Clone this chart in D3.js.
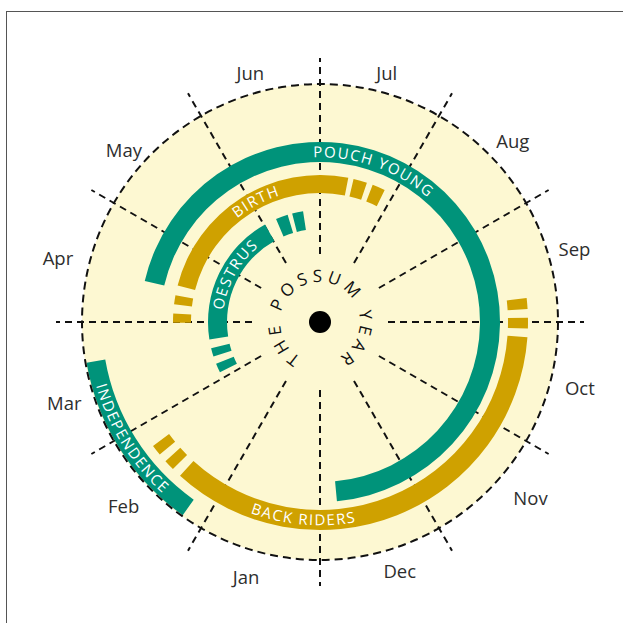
<!DOCTYPE html>
<html>
<head>
<meta charset="utf-8">
<script src="https://cdn.jsdelivr.net/npm/d3@7"></script>
<style>
  body { margin: 0; background: #fff; }
  svg { display: block; }
</style>
</head>
<body>
<div id="chart"></div>
<script>
// month names, Jan = 1 on the month axis used below
var months = ["Jan", "Feb", "Mar", "Apr", "May", "Jun", "Jul", "Aug", "Sep", "Oct", "Nov", "Dec"];

// band start / end on the month axis (1 = Jan 1, 13 = Jan 1 of the next year)
var bandNames   = ["POUCH YOUNG", "BIRTH", "OESTRUS", "BACK RIDERS", "INDEPENDENCE"];
var bandStart   = [4.44, 4.48, 3.70, 10.14, 14.18];
var bandEnd     = [12.82, 7.37, 6.02, 14.41, 15.67];
var bandLabelAt = [7.65, 6.07, 4.97, 13.16, 14.94];

// the short broken pieces before / after a band: [start, end]
var bandDashes = [
  [],
  [[3.99, 4.11], [4.23, 4.35], [7.44, 7.62], [7.70, 7.87]],
  [[3.11, 3.27], [3.40, 3.55], [6.23, 6.44], [6.52, 6.71]],
  [[9.78, 9.88], [9.96, 10.06], [14.50, 14.60], [14.68, 14.78]],
  []
];

var centreTitle = "THE POSSUM YEAR";

// ---------------------------------------------------------------

var green = "#00937a",
    gold = "#cfa100",
    cream = "#fdf8d2";

// ring per band: [inner, outer] and colour
var rings = [[160, 180], [129, 147], [93, 112], [188, 208], [218, 237]];
var ringColors = [green, gold, green, gold, green];

// month label placement: nudge (degrees) off mid-month, and radius
var labelNudge = [1.2, 1.9, -2.4, -1.1, -3.7, -0.6, 0, 1.7, -1.2, -0.8, -5.2, -2.8];
var labelRadius = [265, 269, 268, 270, 261, 259, 258, 265, 265, 268, 274, 261];

var width = 623, height = 623;
var cx = 320, cy = 322;
var circleR = 238;

// Jul 1 sits at 12 o'clock, a full year clockwise
var angle = d3.scaleLinear().domain([7, 19]).range([0, 2 * Math.PI]);

function polar(r, a) {
  return [r * Math.sin(a), -r * Math.cos(a)];
}

var svg = d3.select("#chart").append("svg")
    .attr("width", width)
    .attr("height", height);

svg.append("rect")
    .attr("x", 6.5)
    .attr("y", 11.5)
    .attr("width", 800)
    .attr("height", 800)
    .attr("fill", "none")
    .attr("stroke", "#555")
    .attr("stroke-width", 1);

var g = svg.append("g")
    .attr("transform", "translate(" + cx + "," + cy + ")");

g.append("circle")
    .attr("r", circleR)
    .attr("fill", cream);

// month dividers
g.selectAll("line.divider")
  .data(d3.range(1, 13))
  .enter()
  .append("line")
    .classed("divider", true)
    .attr("x1", d => polar(68, angle(d))[0])
    .attr("y1", d => polar(68, angle(d))[1])
    .attr("x2", d => polar(264, angle(d))[0])
    .attr("y2", d => polar(264, angle(d))[1])
    .attr("stroke", "#111")
    .attr("stroke-width", 2)
    .attr("stroke-dasharray", "7,5");

// month labels near the middle of each sector
function labelPos(i) {
  var a = angle(i + 1.5) + labelNudge[i] * Math.PI / 180;
  return polar(labelRadius[i], a);
}

g.selectAll("text.month")
  .data(months)
  .enter()
  .append("text")
    .classed("month", true)
    .attr("x", (d, i) => labelPos(i)[0])
    .attr("y", (d, i) => labelPos(i)[1])
    .attr("text-anchor", "middle")
    .attr("dominant-baseline", "central")
    .style("font-family", "'Open Sans', sans-serif")
    .style("font-size", "18.5px")
    .attr("fill", "#2e2e2e")
    .text(d => d);

var arc = d3.arc();

// solid bands
var bands = bandNames.map(function(name, i) {
  return {
    name: name,
    start: bandStart[i],
    end: bandEnd[i],
    labelAt: bandLabelAt[i],
    r0: rings[i][0],
    r1: rings[i][1],
    color: ringColors[i]
  };
});

g.selectAll("path.band")
  .data(bands)
  .enter()
  .append("path")
    .classed("band", true)
    .attr("d", d => arc({
      innerRadius: d.r0,
      outerRadius: d.r1,
      startAngle: angle(d.start),
      endAngle: angle(d.end)
    }))
    .attr("fill", d => d.color);

// broken lead-in / lead-out pieces
var pieces = [];
bandDashes.forEach(function(list, i) {
  list.forEach(function(p) {
    pieces.push({ start: p[0], end: p[1], r0: rings[i][0], r1: rings[i][1], color: ringColors[i] });
  });
});

g.selectAll("path.piece")
  .data(pieces)
  .enter()
  .append("path")
    .classed("piece", true)
    .attr("d", d => arc({
      innerRadius: d.r0,
      outerRadius: d.r1,
      startAngle: angle(d.start),
      endAngle: angle(d.end)
    }))
    .attr("fill", d => d.color);

// band labels on curved paths; bottom half reads anticlockwise
var capHalf = 5.3;
bands.forEach(function(d, i) {
  var a = angle(d.labelAt) - Math.PI / 2;   // canvas angle
  var deg = ((angle(d.labelAt) * 180 / Math.PI) % 360 + 360) % 360;
  var flip = deg > 90 && deg < 270;
  var mid = (d.r0 + d.r1) / 2;
  var r = flip ? mid + capHalf : mid - capHalf;
  var p = d3.path();
  if (flip) {
    p.arc(0, 0, r, a + Math.PI / 2, a - Math.PI / 2, true);
  } else {
    p.arc(0, 0, r, a - Math.PI / 2, a + Math.PI / 2, false);
  }
  g.append("path")
    .attr("id", "lbl" + i)
    .attr("d", p.toString())
    .attr("fill", "none");

  g.append("text")
    .style("font-family", "'Open Sans', sans-serif")
    .style("font-size", "15px")
    .style("letter-spacing", "1.5px")
    .attr("fill", "#fff")
    .append("textPath")
      .attr("href", "#lbl" + i)
      .attr("startOffset", "50%")
      .attr("text-anchor", "middle")
      .text(d.name);
});

// outer dashed ring on top
g.append("circle")
    .attr("r", circleR)
    .attr("fill", "none")
    .attr("stroke", "#111")
    .attr("stroke-width", 2)
    .attr("stroke-dasharray", "8,5");

// centre title
var tp = d3.path();
var titleMid = angle(7.07) - Math.PI / 2;
tp.arc(0, 0, 40, titleMid - Math.PI, titleMid + Math.PI, false);
g.append("path")
    .attr("id", "titlePath")
    .attr("d", tp.toString())
    .attr("fill", "none");

g.append("text")
    .style("font-family", "'Open Sans', sans-serif")
    .style("font-size", "17px")
    .style("letter-spacing", "4.3px")
    .attr("fill", "#111")
    .append("textPath")
      .attr("href", "#titlePath")
      .attr("startOffset", "50%")
      .attr("text-anchor", "middle")
      .text(centreTitle);

g.append("circle")
    .attr("r", 11)
    .attr("fill", "#000");
</script>
</body>
</html>
